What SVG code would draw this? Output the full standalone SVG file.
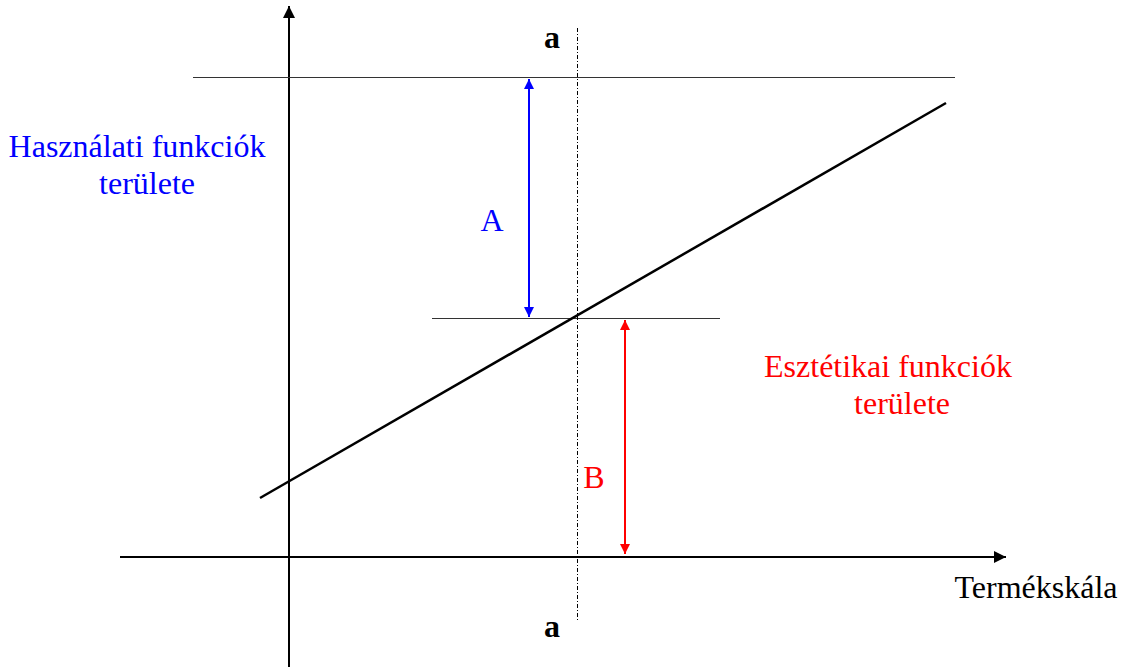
<svg xmlns="http://www.w3.org/2000/svg" width="1128" height="667" viewBox="0 0 1128 667">
<style>
text{font-family:"Liberation Serif","Times New Roman",serif;font-size:32px}
.blue{fill:#0000ff}.red{fill:#ff0000}
</style>
<defs>
<marker id="ak" viewBox="0 0 10 10" refX="10" refY="5" markerWidth="14" markerHeight="12" markerUnits="userSpaceOnUse" orient="auto"><path d="M0,0L10,5L0,10z" fill="#000"/></marker>
<marker id="ab" viewBox="0 0 10 10" refX="10" refY="5" markerWidth="12" markerHeight="10" markerUnits="userSpaceOnUse" orient="auto-start-reverse"><path d="M0,0L10,5L0,10z" fill="#0000ff"/></marker>
<marker id="ar" viewBox="0 0 10 10" refX="10" refY="5" markerWidth="12" markerHeight="10" markerUnits="userSpaceOnUse" orient="auto-start-reverse"><path d="M0,0L10,5L0,10z" fill="#ff0000"/></marker>
</defs>
<rect width="1128" height="667" fill="#fff"/>
<g id="connectors">
<line x1="289" y1="667" x2="289" y2="6" stroke="#000" stroke-width="2" marker-end="url(#ak)"/>
<line x1="120" y1="557" x2="1006" y2="557" stroke="#000" stroke-width="2" marker-end="url(#ak)"/>
<line x1="193" y1="77.5" x2="955" y2="77.5" stroke="#333" stroke-width="1"/>
<line x1="432" y1="318.5" x2="720" y2="318.5" stroke="#333" stroke-width="1"/>
<line x1="577.5" y1="28" x2="577.5" y2="620" stroke="#000" stroke-width="1" stroke-dasharray="4,2,1,2"/>
<line x1="260" y1="498" x2="946" y2="103" stroke="#000" stroke-width="2.5"/>
<line x1="529" y1="79" x2="529" y2="317" stroke="#0000ff" stroke-width="2" marker-start="url(#ab)" marker-end="url(#ab)"/>
<line x1="625" y1="320" x2="625" y2="554" stroke="#ff0000" stroke-width="2" marker-start="url(#ar)" marker-end="url(#ar)"/>
</g>
<g id="labels">
<text x="552" y="48" text-anchor="middle" font-weight="bold">a</text>
<text x="552" y="637" text-anchor="middle" font-weight="bold">a</text>
<text x="492" y="231" text-anchor="middle" class="blue">A</text>
<text x="594" y="488" text-anchor="middle" class="red">B</text>
<text x="137" y="157" text-anchor="middle" class="blue">Használati funkciók</text>
<text x="147" y="194" text-anchor="middle" class="blue">területe</text>
<text x="888" y="377" text-anchor="middle" class="red">Esztétikai funkciók</text>
<text x="902" y="414" text-anchor="middle" class="red">területe</text>
<text x="1036" y="598" text-anchor="middle">Termékskála</text>
</g>
</svg>
